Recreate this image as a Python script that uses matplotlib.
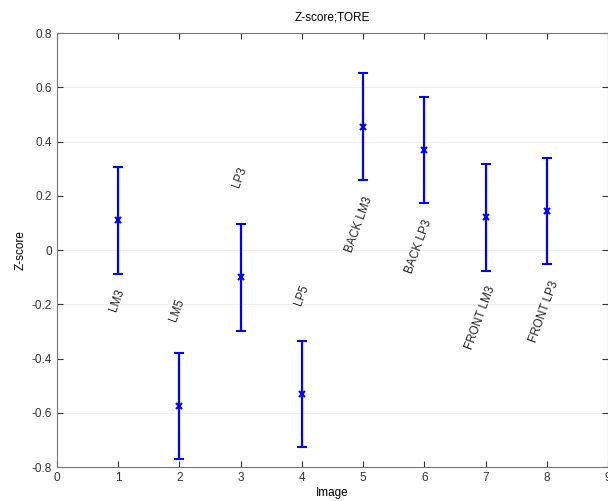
import numpy as np
import matplotlib
matplotlib.use("Agg")
import matplotlib.pyplot as plt

plt.rcParams['font.family'] = ['Liberation Sans', 'DejaVu Sans']

# Z-score per image with +/- error
images = [1, 2, 3, 4, 5, 6, 7, 8]
zscore = [0.11, -0.575, -0.10, -0.53, 0.455, 0.37, 0.12, 0.145]
err = [0.197, 0.195, 0.197, 0.195, 0.197, 0.195, 0.197, 0.195]

names = ['LM3', 'LM5', 'LP3', 'LP5', 'BACK LM3', 'BACK LP3', 'FRONT LM3', 'FRONT LP3']
label_x = [0.985, 1.97, 2.99, 4.0, 4.93, 5.91, 6.91, 7.95]
label_y = [-0.184, -0.221, 0.269, -0.166, 0.092, 0.011, -0.251, -0.229]

fig = plt.figure(figsize=(6.08, 5.01), dpi=100)
ax = fig.add_axes([57 / 608, 1 - 467 / 501, 551 / 608, 434 / 501])

# faint horizontal guide lines
for yv in [0.6, 0.4, 0.0, -0.2, -0.6]:
    ax.axhline(yv, color='#efefef', lw=0.8, zorder=0)

ax.errorbar(images, zscore, yerr=err, fmt='x', color='#0000ff',
            ecolor='#0000ff', elinewidth=1.6, capsize=3.5, capthick=1.6,
            markersize=4.5, markeredgewidth=1.5, zorder=3)

for x, y, s in zip(label_x, label_y, names):
    ax.text(x, y, s, rotation=70, ha='center', va='center', fontsize=8.5,
            color='#222222')

ax.set_xlim(0, 9)
ax.set_ylim(-0.8, 0.8)
ax.set_xticks(range(0, 10))
ax.set_yticks(np.arange(-0.8, 0.81, 0.2))
ax.set_yticklabels(['-0.8', '-0.6', '-0.4', '-0.2', '0', '0.2', '0.4', '0.6', '0.8'])
ax.tick_params(direction='in', length=4, labelsize=8.5, colors='#333333',
               top=True, right=True, width=0.8)
for sp in ax.spines.values():
    sp.set_color('#777777')
    sp.set_linewidth(0.8)

ax.set_title('Z-score;TORE', fontsize=8.5, pad=9)
ax.set_xlabel('Image', fontsize=8.5, labelpad=2)
ax.set_ylabel('Z-score', fontsize=8.5, labelpad=4)

fig.savefig('out.png', dpi=100)
